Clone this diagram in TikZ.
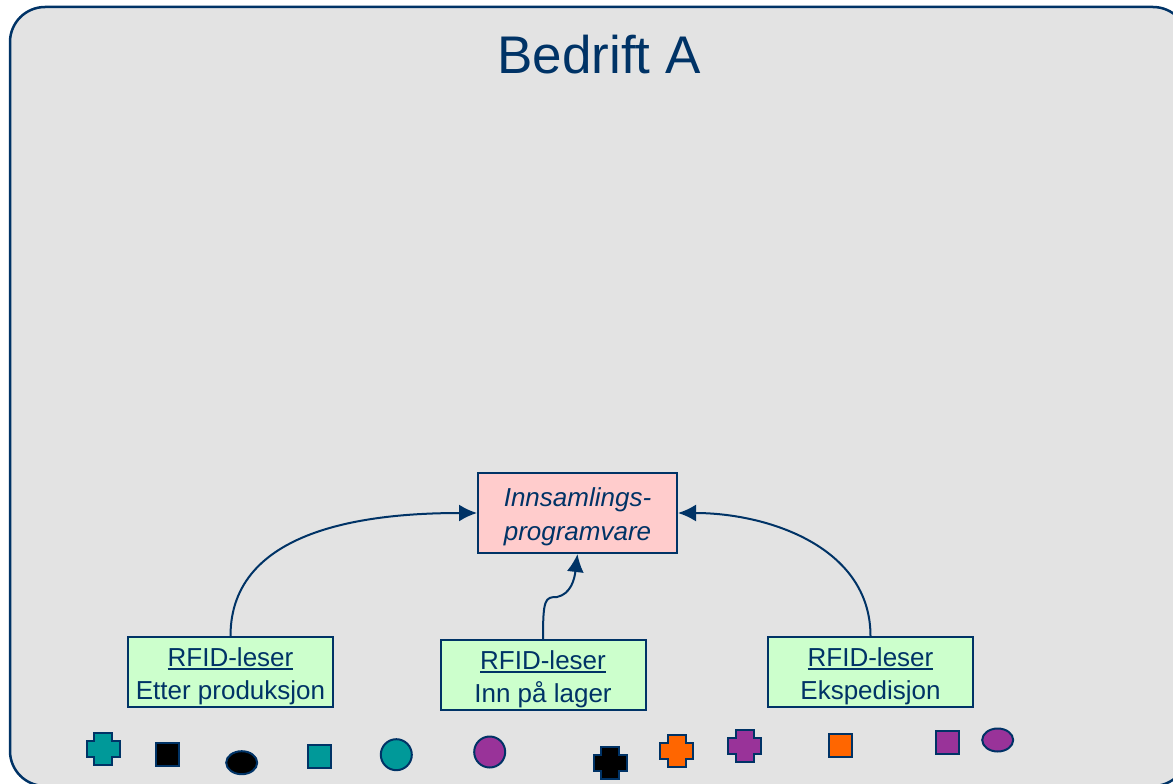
\documentclass[tikz,border=0pt]{standalone}
\usepackage{fontspec}
\setmainfont{Liberation Sans}
\usetikzlibrary{arrows.meta}

\definecolor{navy}{RGB}{0,51,102}
\definecolor{panel}{RGB}{227,227,227}
\definecolor{readergreen}{RGB}{204,255,204}
\definecolor{softpink}{RGB}{255,204,204}
\definecolor{tealc}{RGB}{0,153,153}
\definecolor{purplec}{RGB}{153,51,153}
\definecolor{orangec}{RGB}{255,102,0}

\newcommand{\undr}[1]{\setbox0\hbox{#1}\rlap{\rule[-3.5pt]{\wd0}{1.6pt}}\box0}
\newcommand{\lowstrut}{\rule{0pt}{27pt}}

\begin{document}
\begin{tikzpicture}[
        x=1pt, y=-1pt,
        line width=2pt,
        frametag/.style={font=\fontsize{53}{58}\selectfont, text=navy},
        reader/.style={draw=navy, fill=readergreen, align=center, text=navy, minimum width=205pt, minimum height=70pt, inner sep=0pt, font=\fontsize{26}{33}\selectfont},
        soft/.style={draw=navy, fill=softpink, align=center, text=navy, minimum width=199pt, minimum height=80pt, inner sep=0pt, font=\fontsize{26}{34}\selectfont\itshape},
        feed/.style={draw=navy, -{Latex[length=18pt, width=17pt]}},
        tagshape/.style={draw=navy, line width=2pt}
      ]

      \useasboundingbox (0,0) rectangle (1173,784);
      \clip (0,0) rectangle (1173,784);
      \draw[navy, fill=panel, line width=2.5pt, rounded corners=35pt] (10,7) rectangle (1188,786);

      \node (T) [frametag] at (599,55) {Bedrift A};

      \node (IP) [soft] at (577.5,513) {\lowstrut Innsamlings-\\programvare};
      \node (RE) [reader] at (230.5,672) {\lowstrut\undr{RFID-leser}\\Etter produksjon};
      \node (RI) [reader] at (543,675) {\lowstrut\undr{RFID-leser}\\Inn på lager};
      \node (RX) [reader] at (870.5,672) {\lowstrut\undr{RFID-leser}\\Ekspedisjon};

      \draw[feed] (RE.north) to[out=90, in=180] (IP.west);
      \draw[feed] (RX.north) to[out=90, in=0] (IP.east);
      \draw[feed] (RI.north) .. controls +(0,-40) and +(-12,0) .. ++(14,-42)
                  .. controls +(14,-3) and +(-3,25) .. (IP.south);

      \foreach \cx/\cy/\col in {103/749/tealc, 610/762.7/black, 676.7/750.7/orangec, 744.7/746/purplec}
        \draw[tagshape, fill=\col, shift={(\cx,\cy)}]
          (-9,-16) -- (9,-16) -- (9,-8) -- (16.5,-8) -- (16.5,8) -- (9,8)
          -- (9,16) -- (-9,16) -- (-9,8) -- (-16.5,8) -- (-16.5,-8) -- (-9,-8) -- cycle;

      \foreach \cx/\cy/\col in {167/754/black, 319/756.7/tealc, 840/745.3/orangec, 947.3/742.7/purplec}
        \draw[tagshape, fill=\col] (\cx-11.5,\cy-11.5) rectangle (\cx+11.5,\cy+11.5);

      \foreach \cx/\cy/\col/\rx/\ry in {241.7/762.7/black/15.5/11.5, 396.3/754.7/tealc/15.5/15.5, 489.7/752/purplec/15.5/15.5, 997.7/740/purplec/15.5/11.5}
        \draw[tagshape, fill=\col] (\cx,\cy) ellipse [x radius=\rx, y radius=\ry];

    \end{tikzpicture}
\end{document}
